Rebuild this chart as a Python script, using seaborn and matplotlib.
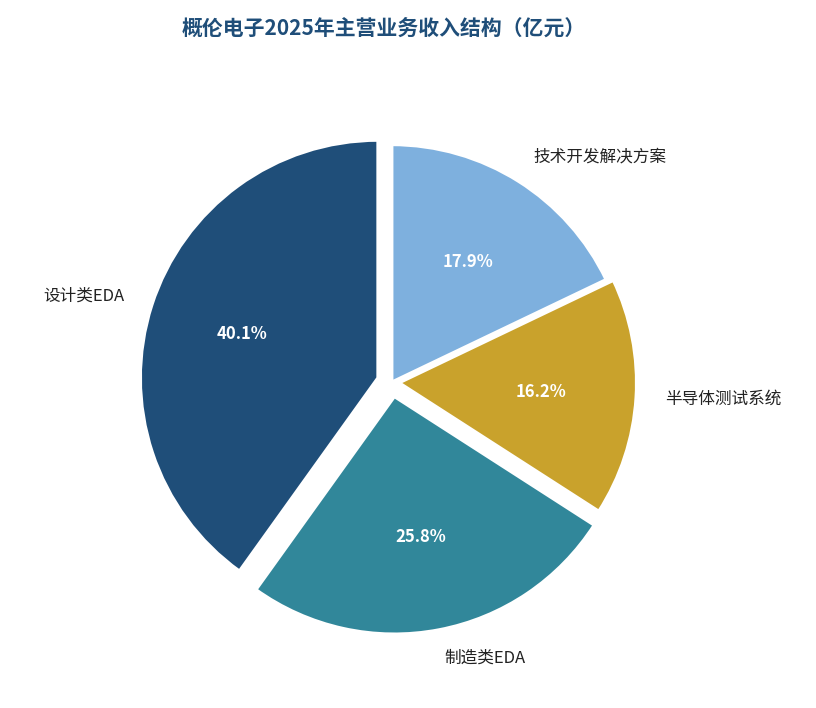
import matplotlib
matplotlib.use("Agg")
import matplotlib.pyplot as plt
import seaborn as sns

sns.set_theme(style="white")
plt.rcParams['font.family'] = ['Noto Sans CJK SC', 'DejaVu Sans']

labels = ["设计类EDA", "制造类EDA", "半导体测试系统", "技术开发解决方案"]
shares = [40.1, 25.8, 16.2, 17.9]
colors = ["#1f4e79", "#31879a", "#c9a22c", "#7eb0de"]
explode = [0.06, 0.06, 0.03, 0.0]

fig, ax = plt.subplots(figsize=(8.16, 7.08), dpi=100)
wedges, texts, autotexts = ax.pie(
    shares, labels=labels, colors=colors, explode=explode, startangle=90,
    counterclock=True, autopct="%1.1f%%", pctdistance=0.6, labeldistance=1.12,
    wedgeprops=dict(edgecolor="white", linewidth=2.5),
    textprops=dict(fontsize=12, color="#222222"))
for t in autotexts:
    t.set_color("white"); t.set_fontweight("bold"); t.set_fontsize(12)
ax.set_aspect("equal")
fig.suptitle("概伦电子2025年主营业务收入结构（亿元）", fontsize=15, fontweight="bold",
             color="#1f4e79", x=0.47, y=0.975)
fig.subplots_adjust(left=0.08, right=0.88, top=0.88, bottom=0.04)
fig.savefig("out.png", dpi=100)
